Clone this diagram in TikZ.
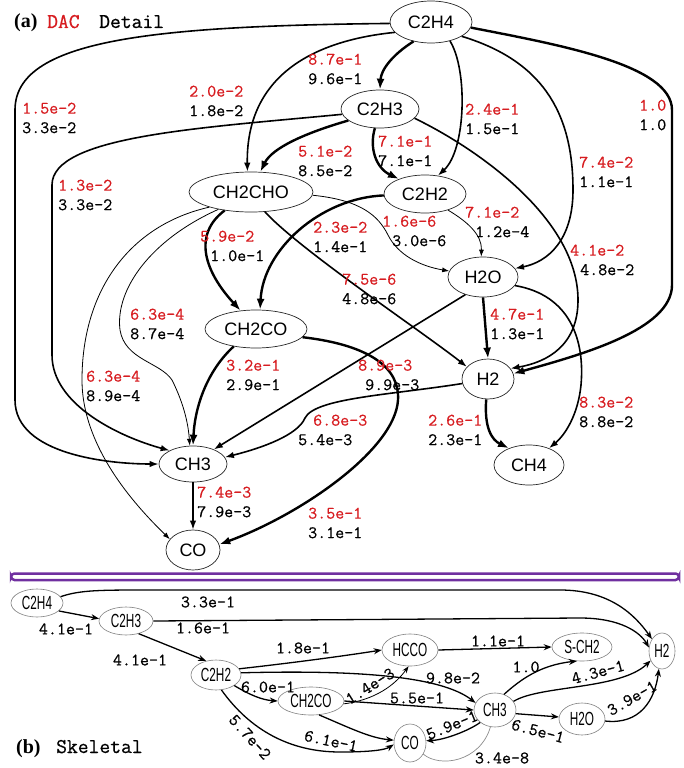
\documentclass[tikz,border=0pt]{standalone}
\usepackage{fontspec}
\usetikzlibrary{shapes.geometric,arrows.meta}
\newfontfamily\nodesans{Liberation Sans}
\newfontfamily\narrowsans[FakeStretch=0.62]{Liberation Sans}
\newfontfamily\titleserif{Liberation Serif}
\newfontfamily\valfont[FakeBold=0.6]{Latin Modern Mono}
\definecolor{valred}{RGB}{215,28,32}
\definecolor{barpurple}{RGB}{112,48,160}

\tikzset{
  unode/.style={ellipse, draw=black!85, line width=0.7pt, inner sep=0pt,
    font=\nodesans\fontsize{18}{20}\selectfont},
  lnode/.style={ellipse, draw=black!50, line width=0.6pt, inner sep=0pt,
    font=\narrowsans\fontsize{19}{21}\selectfont},
  lab/.style={anchor=west, align=left, inner sep=0pt,
    font=\valfont\fontsize{17.5}{19.5}\selectfont},
  slab/.style={inner sep=0pt, font=\valfont\fontsize{17.5}{19}\selectfont},
  ttl/.style={anchor=base west, inner sep=0pt},
  heavy/.style={line width=2.4pt, -{Latex[length=11pt,width=8pt]}},
  medium/.style={line width=1.6pt, -{Latex[length=9pt,width=6.5pt]}},
  fine/.style={line width=0.8pt, -{Latex[length=7pt,width=5pt]}},
  sk/.style={line width=1.3pt, -{Stealth[length=8pt,width=6pt]}},
  skthin/.style={line width=0.8pt, -{Stealth[length=7pt,width=5pt]}},
}
\newcommand{\rv}[1]{\textcolor{valred}{#1}}

\begin{document}
\begin{tikzpicture}[x=1pt,y=-1pt]
\useasboundingbox (0,0) rectangle (684,768);

% ---------------- titles ----------------
\node[ttl, font=\titleserif\bfseries\fontsize{20}{22}\selectfont] (ta) at (14,28) {(a)};
\node[ttl, font=\valfont\fontsize{21}{22}\selectfont, text=valred] (tdac) at (47,28) {DAC};
\node[ttl, font=\valfont\fontsize{21}{22}\selectfont] (tdet) at (99,28) {Detail};
\node[ttl, font=\titleserif\bfseries\fontsize{20}{22}\selectfont] (tb) at (16,753) {(b)};
\node[ttl, font=\valfont\fontsize{21}{22}\selectfont] (tsk) at (56,753) {Skeletal};

% ---------------- detailed mechanism: species ----------------
\node[unode, minimum width=82pt, minimum height=42pt] (c2h4) at (431,22) {C2H4};
\node[unode, minimum width=78pt, minimum height=38pt] (c2h3) at (380,109) {C2H3};
\node[unode, minimum width=82pt, minimum height=38pt] (c2h2) at (425,194) {C2H2};
\node[unode, minimum width=124pt, minimum height=40pt] (ch2cho) at (251,192) {CH2CHO};
\node[unode, minimum width=70pt, minimum height=40pt] (h2o) at (483,277) {H2O};
\node[unode, minimum width=102pt, minimum height=38pt] (ch2co) at (256,329) {CH2CO};
\node[unode, minimum width=52pt, minimum height=40pt] (h2) at (488,379) {H2};
\node[unode, minimum width=68pt, minimum height=36pt] (ch3) at (193,464) {CH3};
\node[unode, minimum width=70pt, minimum height=40pt] (ch4) at (529,465) {CH4};
\node[unode, minimum width=54pt, minimum height=40pt] (co) at (193,550) {CO};

% ---------------- detailed mechanism: reaction paths ----------------
\draw[medium] (c2h4.182) .. controls (150,26) and (15,40) .. (15,110) -- (15,400)
  .. controls (15,455) and (110,464) .. (ch3.west);
\draw[heavy] (c2h4.228) .. controls (392,55) and (381,70) .. (c2h3.north);
\draw[medium] (c2h4.196) .. controls (300,42) and (246,85) .. (ch2cho.100);
\draw[medium] (c2h4.-45) .. controls (468,70) and (466,150) .. (c2h2.55);
\draw[medium] (c2h4.-25) .. controls (540,60) and (573,110) .. (573,190)
  .. controls (573,240) and (548,262) .. (h2o.15);
\draw[heavy] (c2h4.-8) .. controls (560,45) and (672,65) .. (672,110) -- (672,285)
  .. controls (672,330) and (580,355) .. (h2.12);
\draw[heavy] (c2h3.255) .. controls (369,148) and (376,168) .. (c2h2.150);
\draw[heavy] (c2h3.200) .. controls (305,133) and (272,148) .. (ch2cho.65);
\draw[medium] (c2h3.188) .. controls (200,128) and (52,136) .. (52,185) -- (52,355)
  .. controls (52,405) and (120,437) .. (ch3.150);
\draw[medium] (c2h3.-15) .. controls (480,150) and (578,220) .. (578,300)
  .. controls (578,345) and (548,362) .. (h2.25);
\draw[heavy] (c2h2.182) .. controls (320,198) and (263,250) .. (ch2co.78);
\draw[heavy] (ch2cho.215) .. controls (192,235) and (205,272) .. (ch2co.130);
\draw[medium] (ch2cho.-55) .. controls (300,250) and (420,330) .. (h2.150);
\draw[fine] (ch2cho.-3) .. controls (360,200) and (378,215) .. (388,235)
  .. controls (398,255) and (420,266) .. (h2o.170);
\draw[fine] (c2h2.-35) .. controls (468,222) and (482,235) .. (h2o.95);
\draw[heavy] (h2o.south) -- (h2.north);
\draw[medium] (h2o.-15) .. controls (570,295) and (585,340) .. (581,385)
  .. controls (578,415) and (565,435) .. (ch4.40);
\draw[medium] (h2o.225) -- (ch3.35);
\draw[medium] (h2.190) .. controls (390,395) and (315,398) .. (305,418)
  .. controls (298,435) and (262,448) .. (ch3.12);
\draw[heavy] (h2.265) .. controls (484,428) and (492,440) .. (ch4.140);
\draw[heavy] (ch2co.218) .. controls (208,370) and (195,405) .. (ch3.north);
\draw[fine] (ch2cho.208) .. controls (150,240) and (115,290) .. (120,330)
  .. controls (125,360) and (160,362) .. (172,380)
  .. controls (182,400) and (188,420) .. (ch3.100);
\draw[fine] (ch2cho.200) .. controls (130,225) and (82,290) .. (82,380)
  .. controls (82,450) and (140,510) .. (co.155);
\draw[medium] (ch3.south) -- (co.north);
\draw[heavy] (ch2co.-10) .. controls (370,345) and (400,368) .. (398,400)
  .. controls (395,450) and (300,515) .. (co.12);

% ---------------- detailed mechanism: path values ----------------
\node[lab] (l1) at (22,118) {\rv{1.5e-2}\\3.3e-2};
\node[lab] (l2) at (189,101) {\rv{2.0e-2}\\1.8e-2};
\node[lab] (l3) at (308,69) {\rv{8.7e-1}\\9.6e-1};
\node[lab] (l4) at (465,119) {\rv{2.4e-1}\\1.5e-1};
\node[lab] (l5) at (639,115) {\rv{1.0}\\1.0};
\node[lab] (l6) at (579,172) {\rv{7.4e-2}\\1.1e-1};
\node[lab] (l7) at (298,161) {\rv{5.1e-2}\\8.5e-2};
\node[lab] (l8) at (378,151) {\rv{7.1e-1}\\7.1e-1};
\node[lab] (l9) at (58,195) {\rv{1.3e-2}\\3.3e-2};
\node[lab] (l10) at (570,260) {\rv{4.1e-2}\\\hspace*{10pt}4.8e-2};
\node[lab] (l11) at (313,237) {\rv{2.3e-2}\\1.4e-1};
\node[lab] (l12) at (382,231) {\rv{1.6e-6}\\\hspace*{10pt}3.0e-6};
\node[lab] (l13) at (465,222) {\rv{7.1e-2}\\\hspace*{10pt}1.2e-4};
\node[lab] (l14) at (200,246) {\rv{5.9e-2}\\\hspace*{10pt}1.0e-1};
\node[lab] (l15) at (342,289) {\rv{7.5e-6}\\4.8e-6};
\node[lab] (l16) at (130,324) {\rv{6.3e-4}\\8.7e-4};
\node[lab] (l17) at (86,386) {\rv{6.3e-4}\\8.9e-4};
\node[lab] (l18) at (490,324) {\rv{4.7e-1}\\1.3e-1};
\node[lab] (l19) at (226,375) {\rv{3.2e-1}\\2.9e-1};
\node[lab] (l20) at (358,375) {\rv{8.9e-3}\\\hspace*{7pt}9.9e-3};
\node[lab] (l21) at (298,430) {\hspace*{15pt}\rv{6.8e-3}\\5.4e-3};
\node[lab] (l22) at (428,430) {\rv{2.6e-1}\\2.3e-1};
\node[lab] (l23) at (579,412) {\rv{8.3e-2}\\8.8e-2};
\node[lab] (l24) at (197,502) {\rv{7.4e-3}\\7.9e-3};
\node[lab] (l25) at (308,523) {\rv{3.5e-1}\\3.1e-1};

% ---------------- separator ----------------
\draw[barpurple, line width=2.5pt, rounded corners=3.5pt] (11,573.5) rectangle (679,580);

% ---------------- skeletal mechanism: species ----------------
\node[lnode, minimum width=52pt, minimum height=28pt] (c2h4b) at (37,603) {C2H4};
\node[lnode, minimum width=54pt, minimum height=28pt] (c2h3b) at (126,621) {C2H3};
\node[lnode, minimum width=50pt, minimum height=30pt] (c2h2b) at (216,675) {C2H2};
\node[lnode, minimum width=66pt, minimum height=28pt] (ch2cob) at (311,701) {CH2CO};
\node[lnode, minimum width=56pt, minimum height=32pt] (hcco) at (410,650) {HCCO};
\node[lnode, minimum width=60pt, minimum height=28pt] (sch2) at (582,647) {S-CH2};
\node[lnode, minimum width=26pt, minimum height=36pt] (h2b) at (662,651) {H2};
\node[lnode, minimum width=42pt, minimum height=34pt] (ch3b) at (495,710) {CH3};
\node[lnode, minimum width=46pt, minimum height=32pt] (h2ob) at (582,719) {H2O};
\node[lnode, minimum width=32pt, minimum height=38pt] (cob) at (410,743) {CO};

% ---------------- skeletal mechanism: reaction paths ----------------
\draw[sk] (c2h4b.-20) -- (c2h3b.175);
\draw[sk] (c2h4b.15) .. controls (80,590) and (100,590) .. (150,590) -- (560,590)
  .. controls (610,590) and (635,615) .. (h2b.130);
\draw[sk] (c2h3b.east) -- (580,618) .. controls (620,618) and (640,632) .. (h2b.165);
\draw[sk] (c2h3b.-45) -- (c2h2b.125);
\draw[sk] (c2h2b.15) .. controls (300,662) and (350,655) .. (hcco.180);
\draw[sk] (c2h2b.5) .. controls (350,670) and (440,675) .. (ch3b.160);
\draw[sk] (c2h2b.-30) .. controls (250,695) and (262,700) .. (ch2cob.180);
\draw[sk] (c2h2b.-70) .. controls (250,730) and (290,752) .. (340,752)
  .. controls (370,752) and (385,750) .. (cob.185);
\draw[skthin] (ch2cob.-5) .. controls (375,700) and (395,685) .. (hcco.-95);
\draw[sk] (ch2cob.east) -- (ch3b.west);
\draw[sk] (ch2cob.-60) .. controls (350,728) and (370,738) .. (cob.170);
\draw[sk] (hcco.east) -- (sch2.west);
\draw[sk] (ch3b.60) .. controls (520,680) and (540,665) .. (sch2.-110);
\draw[sk] (ch3b.25) .. controls (540,685) and (620,690) .. (h2b.-140);
\draw[sk] (ch3b.-10) -- (h2ob.175);
\draw[sk] (ch3b.-140) .. controls (470,730) and (445,740) .. (cob.8);
\draw[black!45, line width=0.7pt] (cob.-40) .. controls (440,768) and (480,762) .. (ch3b.-105);
\draw[sk] (h2ob.-5) .. controls (640,725) and (655,700) .. (h2b.-100);

% ---------------- skeletal mechanism: path values ----------------
\node[slab] (m1) at (66,629) {4.1e-1};
\node[slab] (m2) at (208,602) {3.3e-1};
\node[slab] (m3) at (203,628) {1.6e-1};
\node[slab] (m4) at (140,660) {4.1e-1};
\node[slab] (m5) at (303,648) {1.8e-1};
\node[slab] (m6) at (268,687) {6.0e-1};
\node[slab, rotate=-48] (m7) at (250,737) {5.7e-2};
\node[slab, rotate=-12] (m8) at (331,741) {6.1e-1};
\node[slab, rotate=32] (m9) at (370,686) {1.4e-3};
\node[slab] (m10) at (417,698) {5.5e-1};
\node[slab] (m11) at (453,678) {9.8e-2};
\node[slab] (m12) at (498,641) {1.1e-1};
\node[slab] (m13) at (526,667) {1.0};
\node[slab, rotate=15] (m14) at (598,672) {4.3e-1};
\node[slab, rotate=-15] (m15) at (538,731) {6.5e-1};
\node[slab, rotate=22] (m16) at (452,725) {5.9e-1};
\node[slab] (m17) at (502,758) {3.4e-8};
\node[slab, rotate=30] (m18) at (632,698) {3.9e-1};
\end{tikzpicture}
\end{document}
